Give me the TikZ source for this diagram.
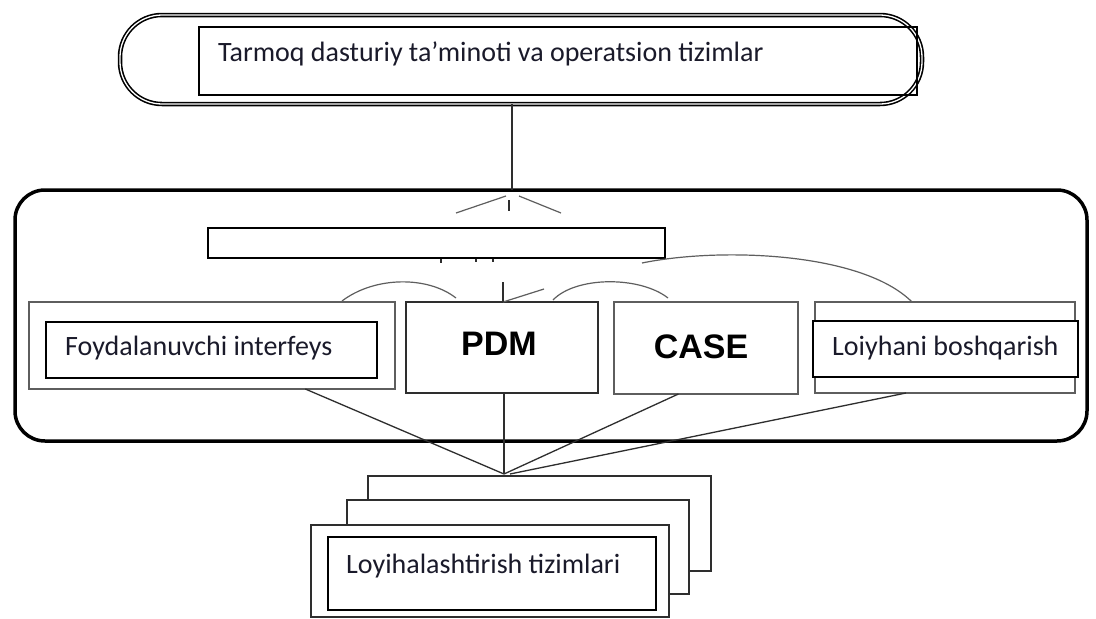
\documentclass[tikz,border=0pt]{standalone}
\usepackage{fontspec}
\setmainfont{Carlito}
\newfontfamily\boldsans{Liberation Sans}
\usetikzlibrary{calc}
\definecolor{txt}{HTML}{1A1A2A}
\definecolor{ln}{HTML}{2E2E2E}
\definecolor{gl}{HTML}{5E5E5E}
\tikzset{
  rbox/.style={draw, rectangle, inner sep=0pt, outer sep=0pt, anchor=north west},
  lbl/.style={font=\fontsize{28}{30}\selectfont, text=txt, anchor=base west, inner sep=0pt},
  big/.style={font=\boldsans\bfseries\fontsize{34}{36}\selectfont, text=black, inner sep=0pt},
  conn/.style={draw=ln, line width=1.4pt},
  thinconn/.style={draw=ln, line width=1.3pt},
  faint/.style={draw=gl, line width=1.2pt},
}
\begin{document}
\begin{tikzpicture}[x=1pt,y=-1pt]
\useasboundingbox[fill=white] (0,0) rectangle (1096,619);

% top group
\node[rbox, rounded corners=42pt, minimum width=802pt, minimum height=89pt,
      line width=1.6pt, double, double distance=1.3pt] (topouter) at (120,15) {};
\node[rbox, line width=1.1pt, minimum width=718pt, minimum height=68pt] (topinner) at (199,27) {};
\node[lbl] (toptext) at (218,61) {Tarmoq dasturiy ta’minoti va operatsion tizimlar};

% middle group
\node[rbox, rounded corners=30pt, line width=3.5pt, minimum width=1072pt, minimum height=251pt] (mid) at (15,190) {};
\coordinate (conv) at (512,0);
\draw[conn] (topouter.south -| conv) -- (mid.north -| conv);

% broken arrow marks under the top edge
\coordinate (apexL) at (506,196);
\coordinate (apexR) at (519,196);
\coordinate (hatL) at (456,213);
\coordinate (hatR) at (561,213);
\coordinate (tickT) at (509,200);
\coordinate (tickB) at (509,211);
\draw[faint] (apexL) -- (hatL);
\draw[faint] (apexR) -- (hatR);
\draw[thinconn, line width=1.6pt] (tickT) -- (tickB);

\node[rbox, line width=1.1pt, minimum width=457pt, minimum height=30pt] (bar) at (208,228) {};
\coordinate (m1a) at (441,259); \coordinate (m1b) at (441,263);
\coordinate (m2a) at (476,259); \coordinate (m2b) at (476,262);
\coordinate (m3a) at (493,259); \coordinate (m3b) at (493,262);
\draw[thinconn] (m1a) -- (m1b);
\draw[thinconn] (m2a) -- (m2b);
\draw[thinconn] (m3a) -- (m3b);

% row of boxes
\node[rbox, draw=gl, line width=2.4pt, minimum width=366pt, minimum height=87pt] (foyd) at (29,302) {};
\node[rbox, draw=black, line width=1.1pt, minimum width=331pt, minimum height=56pt] (foydin) at (46,322) {};
\node[lbl] (foydtext) at (65,355) {Foydalanuvchi interfeys};

\node[rbox, draw=ln, line width=2.2pt, minimum width=192pt, minimum height=91pt] (pdm) at (406,302) {};
\node[big] (pdmtext) at (499,344) {PDM};

\node[rbox, draw=gl, line width=2.2pt, minimum width=184pt, minimum height=92pt] (case) at (614,302) {};
\node[big] (casetext) at (701,347) {CASE};

\node[rbox, draw=gl, line width=1.8pt, minimum width=260pt, minimum height=91pt] (loiy) at (815,302) {};
\node[rbox, draw=black, fill=white, line width=1.1pt, minimum width=265pt, minimum height=56pt] (loiyin) at (813,321) {};
\node[lbl] (loiytext) at (832,355) {Loiyhani boshqarish};

% arcs between the boxes
\coordinate (aA1) at (342,301);
\coordinate (aA2) at (456,298);
\coordinate (aB1) at (553,300);
\coordinate (aB2) at (668,298);
\coordinate (aC1) at (642,263);
\coordinate (aC2) at (912,302);
\draw[faint] (aA1) .. controls (375,276) and (428,276) .. (aA2);
\draw[faint] (aB1) .. controls (576,276) and (640,276) .. (aB2);
\draw[faint] (aC1) .. controls (720,247) and (862,252) .. (aC2);
\coordinate (arT) at (544,289);
\coordinate (arV) at (503,282);
\draw[faint] (arT) -- (pdm.north -| arV);
\draw[thinconn] (arV) -- (pdm.north -| arV);

% lines down to the stack
\coordinate (hub) at (504,474);
\draw[thinconn] ($(foyd.south west)!0.755!(foyd.south east)$) -- (hub);
\draw[conn, line width=1.8pt] (pdm.south -| hub) -- (hub);
\draw[thinconn] ($(case.south west)!0.35!(case.south east)$) -- (hub);
\draw[thinconn] ($(loiy.south west)!0.35!(loiy.south east)$) -- ($(hub)+(6,0)$);

% stack of pages
\node[rbox, draw=ln, fill=white, line width=1.5pt, minimum width=343pt, minimum height=95pt] (pg3) at (368,476) {};
\node[rbox, draw=ln, fill=white, line width=1.5pt, minimum width=342pt, minimum height=94pt] (pg2) at (347,500) {};
\node[rbox, draw=ln, fill=white, line width=1.5pt, minimum width=358pt, minimum height=92pt] (pg1) at (311,525) {};
\node[rbox, draw=black, line width=1.1pt, minimum width=328pt, minimum height=73pt] (pg1in) at (328,537) {};
\node[lbl] (stacktext) at (346,573) {Loyihalashtirish tizimlari};
\end{tikzpicture}
\end{document}
